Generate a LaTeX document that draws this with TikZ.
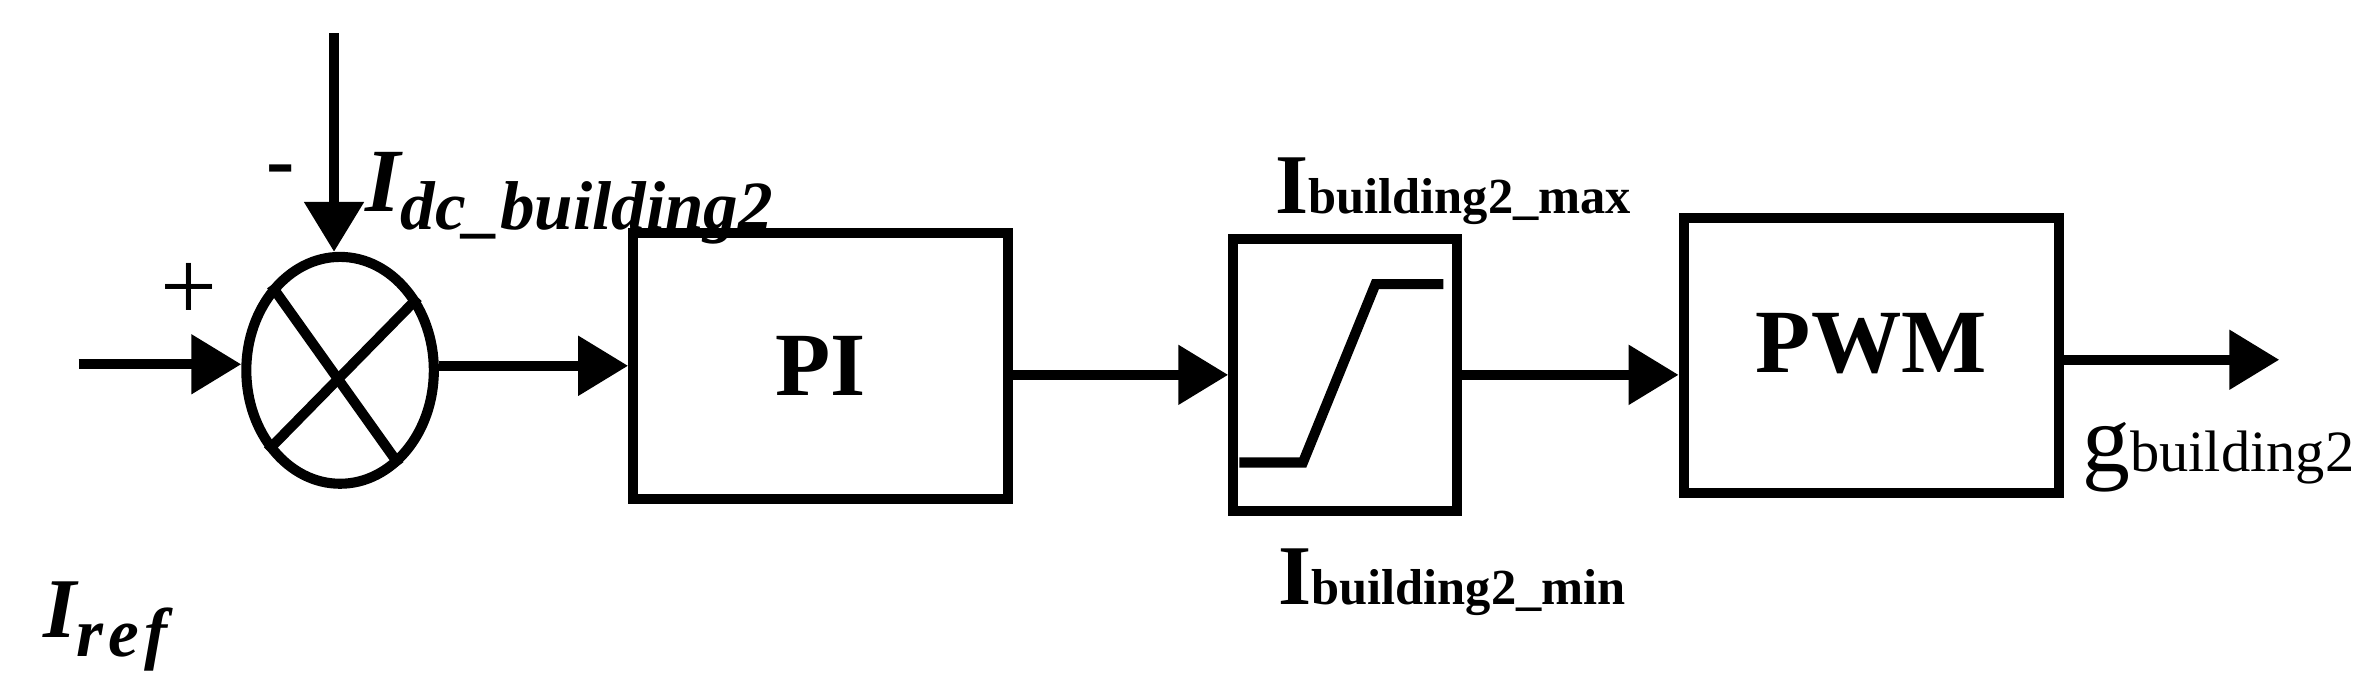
\documentclass[tikz,border=0pt]{standalone}
\usepackage{fontspec}
\setmainfont{Liberation Serif}
\usetikzlibrary{arrows.meta}
\usetikzlibrary{shapes.geometric}

\tikzset{
  block/.style={draw, line width=1.9pt, inner sep=0pt},
  sig/.style={line width=1.9pt, -{Triangle[length=3.3mm,width=3.8mm]}},
  lab/.style={inner sep=0pt, anchor=base west}
}

\begin{document}
\begin{tikzpicture}[x=0.01cm,y=-0.01cm,line join=miter]
        \useasboundingbox (0,0) rectangle (1568,456.5);

        % summing junction
        \node[block, ellipse, minimum width=1.24cm, minimum height=1.5cm] (sum) at (225,245) {};
        \draw[line width=1.9pt] (sum.129) -- (sum.302);
        \draw[line width=1.9pt] (sum.43) -- (sum.228);

        % blocks
        \node[block, minimum width=2.48cm, minimum height=1.76cm] (pi) at (543,242)
            {\fontsize{17}{17}\selectfont\bfseries PI};
        \node[block, minimum width=1.48cm, minimum height=1.8cm] (sat) at (890,248) {};
        \node[block, minimum width=2.48cm, minimum height=1.82cm] (pwm) at (1238,235)
            {\raisebox{1.6mm}{\fontsize{17}{17}\selectfont\bfseries PWM}};

        % limiter curve
        \draw[line width=1.9pt, shift={(sat.center)}] (-70,58) -- (-28,58) -- (20,-60) -- (65,-60);

        % free ends
        \coordinate (in) at (52,241);
        \coordinate (top) at (221,22);
        \coordinate (out) at (1508,238);

        % signals
        \draw[sig] (in) -- (in -| sum.west);
        \draw[sig] (top) -- (top |- sum.north);
        \draw[sig] (sum.east |- pi.west) -- (pi.west);
        \draw[sig] (pi.east |- sat.west) -- (sat.west);
        \draw[sig] (sat.east) -- (sat.east -| pwm.west);
        \draw[sig] (pwm.east |- out) -- (out);

        % labels
        \node (plus) at (125,193) {\fontsize{19}{19}\selectfont +};
        \node (minus) at (186,117) {\fontsize{16}{16}\selectfont\bfseries -};
        \node[lab] (idc) at (241,140)
            {\bfseries\itshape\fontsize{17}{17}\selectfont I\raisebox{-1.2mm}{\fontsize{13}{13}\selectfont dc\_building2}};
        \node[lab] (iref) at (28,422)
            {\bfseries\itshape\fontsize{16}{16}\selectfont I\raisebox{-1.2mm}{\fontsize{13}{13}\selectfont r\kern1pt e\kern1pt f}};
        \node[lab] (imax) at (843,141)
            {\bfseries\fontsize{16}{16}\selectfont I\fontsize{9.5}{9.5}\selectfont building2\_max};
        \node[lab] (imin) at (845,400)
            {\bfseries\fontsize{16}{16}\selectfont I\fontsize{9.5}{9.5}\selectfont building2\_min};
        \node[lab] (gout) at (1377,312)
            {\fontsize{18}{18}\selectfont g\fontsize{11}{11}\selectfont building2};
    \end{tikzpicture}
\end{document}
